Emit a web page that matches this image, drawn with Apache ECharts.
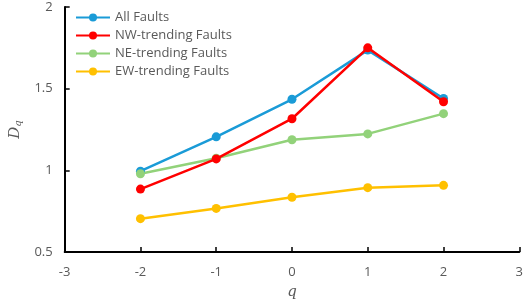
<!DOCTYPE html>
<html>
<head>
<meta charset="utf-8">
<script src="https://cdn.jsdelivr.net/npm/echarts@6/dist/echarts.min.js"></script>
<style>
  html, body { margin: 0; padding: 0; background: #fff; }
  #chart { width: 526px; height: 305px; }
</style>
</head>
<body>
<div id="chart"></div>
<script>
const qValues = [-2, -1, 0, 1, 2];
const allFaults = [0.995, 1.205, 1.435, 1.736, 1.44];
const nwFaults = [0.885, 1.07, 1.316, 1.75, 1.42];
const neFaults = [0.979, 1.074, 1.187, 1.223, 1.347];
const ewFaults = [0.704, 0.767, 0.835, 0.894, 0.908];

const seriesNames = ['All Faults', 'NW-trending Faults', 'NE-trending Faults', 'EW-trending Faults'];
const seriesColors = ['#1a9bd7', '#ff0000', '#92d27a', '#ffc000'];
const seriesData = [allFaults, nwFaults, neFaults, ewFaults];

const chart = echarts.init(document.getElementById('chart'));

const axisText = { color: '#595959', fontSize: 13, fontFamily: 'Open Sans' };

const option = {
  animation: false,
  grid: { left: 52, right: 5, top: 7, bottom: 51 },
  legend: {
    orient: 'vertical',
    left: 70,
    top: 6,
    itemWidth: 34,
    itemHeight: 10,
    itemGap: 5,
    textStyle: { color: '#595959', fontSize: 13, fontFamily: 'Open Sans' },
    data: seriesNames
  },
  xAxis: {
    type: 'value',
    min: -3,
    max: 3,
    interval: 1,
    name: 'q',
    nameLocation: 'middle',
    nameGap: 33,
    nameTextStyle: { color: '#595959', fontSize: 15, fontStyle: 'italic', fontFamily: 'DejaVu Serif' },
    axisLine: { onZero: false, lineStyle: { color: '#000', width: 2 } },
    axisTick: { inside: true, length: 5, lineStyle: { color: '#000', width: 1.5 } },
    axisLabel: Object.assign({ margin: 14 }, axisText),
    splitLine: { show: false }
  },
  yAxis: {
    type: 'value',
    min: 0.5,
    max: 2,
    interval: 0.5,
    name: '{d|D}{s|q}',
    nameLocation: 'middle',
    nameGap: 40,
    nameRotate: 90,
    nameTextStyle: {
      rich: {
        d: { color: '#595959', fontSize: 15, fontStyle: 'italic', fontFamily: 'DejaVu Serif' },
        s: { color: '#595959', fontSize: 10, fontStyle: 'italic', fontFamily: 'DejaVu Serif', verticalAlign: 'bottom', padding: [6, 0, 0, 0] }
      }
    },
    axisLine: { show: true, onZero: false, lineStyle: { color: '#000', width: 2 } },
    axisTick: { show: true, inside: true, length: 5, lineStyle: { color: '#000', width: 1.5 } },
    axisLabel: Object.assign({ margin: 12 }, axisText),
    splitLine: { show: false }
  },
  series: seriesNames.map((name, i) => ({
    name: name,
    type: 'line',
    data: qValues.map((q, j) => [q, seriesData[i][j]]),
    color: seriesColors[i],
    symbol: 'circle',
    symbolSize: 9,
    lineStyle: { width: 2.5 },
    z: i === 1 ? 5 : 2
  }))
};

chart.setOption(option);
</script>
</body>
</html>
